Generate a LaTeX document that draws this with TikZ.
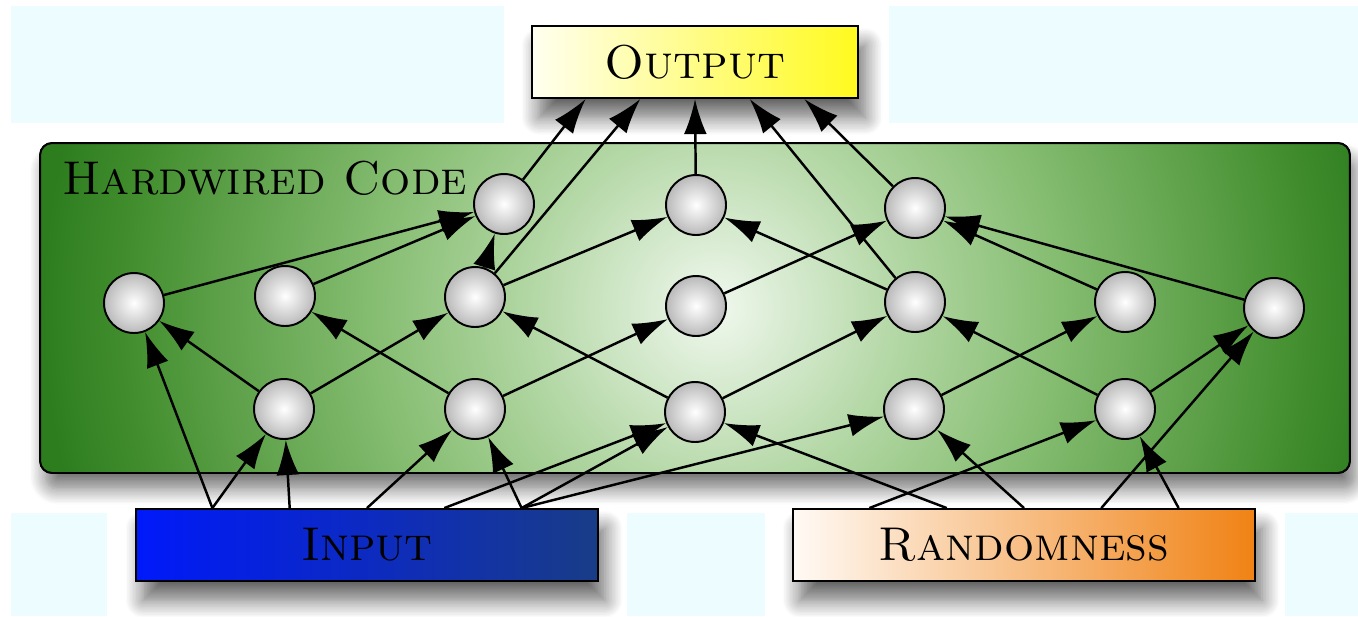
\documentclass[tikz,border=0pt]{standalone}
\usepackage{xcolor}
\usepackage{tikz}
\usetikzlibrary{arrows.meta,calc,shadows.blur}

\definecolor{bgcyan}{RGB}{236,252,255}
\definecolor{hwdark}{RGB}{45,125,30}
\definecolor{outlight}{RGB}{255,255,240}
\definecolor{outyellow}{RGB}{255,250,30}
\definecolor{inblue}{RGB}{0,25,250}
\definecolor{innavy}{RGB}{25,60,135}
\definecolor{rndlight}{RGB}{255,250,245}
\definecolor{rndorange}{RGB}{240,130,20}

\pgfdeclareradialshading{hwglow}{\pgfpoint{0bp}{0bp}}{%
  color(0bp)=(rgb,255:red,240;green,248;blue,238);
  color(7bp)=(rgb,255:red,175;green,213;blue,160);
  color(12bp)=(rgb,255:red,135;green,190;blue,115);
  color(18bp)=(rgb,255:red,90;green,158;blue,70);
  color(20.5bp)=(rgb,255:red,70;green,145;blue,50);
  color(24bp)=(hwdark);
  color(50bp)=(hwdark)}

\begin{document}
\begin{tikzpicture}[x=0.02cm,y=-0.02cm,
  gate/.style={circle,draw,line width=1.1pt,minimum size=1.2cm,inner sep=0pt,
    inner color=white,outer color=gray!55},
  wire/.style={line width=1.4pt,-{Latex[length=20pt,width=13pt]}},
  card/.style={draw,line width=1.1pt,minimum height=1.44cm,inner sep=0pt,
    font=\fontsize{27}{32}\selectfont\scshape,
    blur shadow={shadow xshift=4pt,shadow yshift=-11pt,shadow blur radius=10pt,shadow blur steps=12,shadow opacity=60}}]
        \useasboundingbox (0,0) rectangle (1358,616);
        %画背景
        \fill[bgcyan] (11,6) rectangle (504,123);
        \fill[bgcyan] (889,6) rectangle (1358,123);
        \fill[bgcyan] (11,513) rectangle (107,616);
        \fill[bgcyan] (627,513) rectangle (765,616);
        \fill[bgcyan] (1285,513) rectangle (1358,616);
        %画电路框
        \node[draw,line width=1.1pt,rounded corners=0.24cm,outer sep=0pt,
          minimum width=26.2cm,minimum height=6.6cm,fill=hwdark,
          blur shadow={shadow xshift=3pt,shadow yshift=-9pt,shadow blur radius=9pt,shadow blur steps=12,shadow opacity=55}] (hw) at (695,308) {};
        \begin{scope}
                \clip[rounded corners=0.24cm] (hw.north west) rectangle (hw.south east);
                \shade[shading=hwglow] ($(hw.center)+(-680,-700)$) rectangle ($(hw.center)+(720,700)$);
        \end{scope}
        \draw[line width=1.1pt,rounded corners=0.24cm] (hw.north west) rectangle (hw.south east);
        \node[anchor=base west,inner sep=0pt,font=\fontsize{27}{32}\selectfont\scshape] (hwname) at (62,194) {Hardwired Code};
        %画输入输出
        \node[card,minimum width=6.52cm,left color=outlight,right color=outyellow] (out) at (695,62) {Output};
        \node[card,minimum width=9.24cm,left color=inblue,right color=innavy] (inp) at (367,545) {Input};
        \node[card,minimum width=9.24cm,left color=rndlight,right color=rndorange] (rnd) at (1024,545) {Randomness};
        %画门
        \foreach \n/\x/\y in {a1/504/204,a2/696/205,a3/915/208,
                b1/134/303,b2/285/296,b3/475/297,b4/696/306,b5/915/302,b6/1125/302,b7/1274/308,
                c1/284/409,c2/475/409,c3/695/412,c4/914/409,c5/1125/409}
                \node[gate] (\n) at (\x,\y) {};
        %框上的连接点
        \foreach \i in {1,...,5}
        {
                \coordinate (out\i) at ($(out.south west)!\i/6!(out.south east)$);
                \coordinate (inp\i) at ($(inp.north west)!\i/6!(inp.north east)$);
                \coordinate (rnd\i) at ($(rnd.north west)!\i/6!(rnd.north east)$);
        };
        %画箭头
        \foreach \s/\t in {a1/out1,b3/out2,a2/out3,b5/out4,a3/out5,
                b1/a1,b2/a1,b3/a1,b3/a2,b5/a2,b4/a3,b6/a3,b7/a3,
                c1/b1,c2/b2,c1/b3,c3/b3,c2/b4,c3/b5,c5/b5,c4/b6,c5/b7,
                inp1/b1,inp1/c1,inp2/c1,inp3/c2,inp5/c2,inp4/c3,inp5/c3,inp5/c4,
                rnd1/c5,rnd2/c3,rnd3/c4,rnd4/b7,rnd5/c5}
                \draw[wire] (\s) -- (\t);
\end{tikzpicture}
\end{document}
